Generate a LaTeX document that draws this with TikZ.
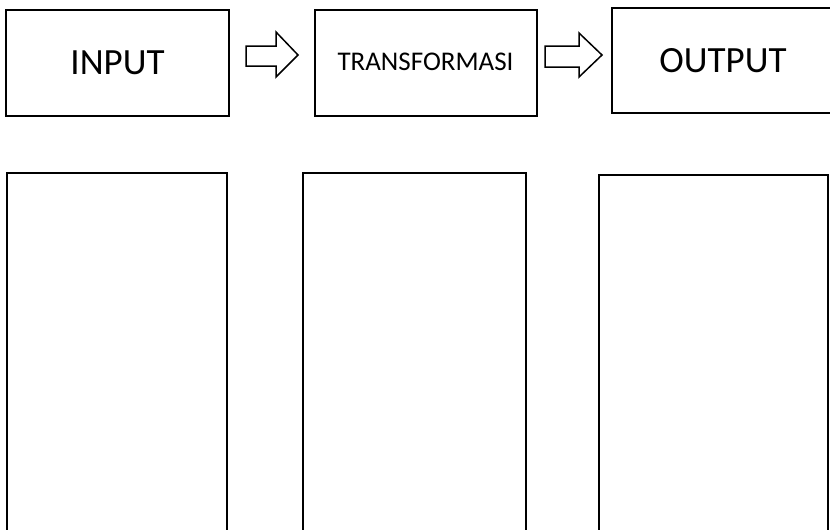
\documentclass[tikz,border=0pt]{standalone}
\usepackage{fontspec}
\setmainfont{Carlito}
\begin{document}
\begin{tikzpicture}[x=1pt,y=-1pt,
  stage/.style={draw=black,line width=1.6pt,fill=white},
  blockarrow/.style={draw=black,line width=1.5pt,fill=white,line join=miter},
  bigtext/.style={font=\fontsize{37}{40}\selectfont},
  smalltext/.style={font=\fontsize{27}{30}\selectfont}]
\useasboundingbox (0,0) rectangle (830,530);

% top row: process stages
\draw[stage] (6,10) rectangle (229,116);
\node[bigtext] (input) at (117.5,63) {INPUT};
\draw[stage] (315,10) rectangle (537,116);
\node[smalltext] (trans) at (425.5,62) {TRANSFORMASI};
\draw[stage] (612,8) rectangle (845,113);
\node[bigtext] (output) at (723,61) {OUTPUT};

% hollow block arrows between stages
\draw[blockarrow] (246,46) -- (276,46) -- (276,32) -- (298,55) -- (276,77) -- (276,66) -- (246,66) -- cycle;
\draw[blockarrow] (545,46) -- (579,46) -- (579,33) -- (602,55) -- (579,77) -- (579,67) -- (545,67) -- cycle;

% bottom row: empty columns
\draw[stage] (7,173) rectangle (227,545);
\draw[stage] (303,173) rectangle (526,545);
\draw[stage] (599,175) rectangle (828,545);
\end{tikzpicture}
\end{document}
